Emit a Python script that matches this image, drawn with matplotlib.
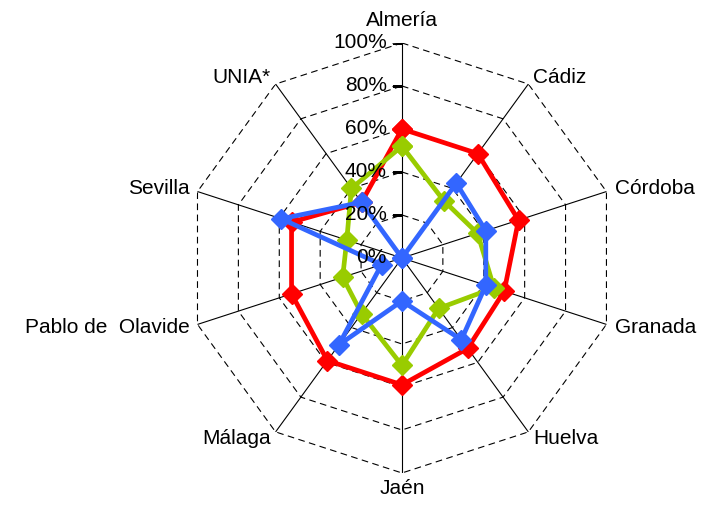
import numpy as np
import matplotlib
matplotlib.use("Agg")
import matplotlib.pyplot as plt
from matplotlib.transforms import offset_copy

plt.rcParams['font.family'] = ['Liberation Sans', 'DejaVu Sans']

# categories, clockwise from the top
categories = ['Almería', 'Cádiz', 'Córdoba', 'Granada', 'Huelva', 'Jaén',
              'Málaga', 'Pablo de  Olavide', 'Sevilla', 'UNIA*']

# values (fractions of 100%)
red_values = [0.60, 0.60, 0.57, 0.50, 0.52, 0.59, 0.59, 0.54, 0.54, 0.32]
green_values = [0.52, 0.33, 0.37, 0.45, 0.29, 0.50, 0.32, 0.29, 0.27, 0.40]
blue_values = [0.00, 0.43, 0.41, 0.41, 0.47, 0.20, 0.50, 0.10, 0.59, 0.32]

grid_levels = [0.0, 0.2, 0.4, 0.6, 0.8, 1.0]
grid_labels = ['0%', '20%', '40%', '60%', '80%', '100%']

fig = plt.figure(figsize=(7.09, 5.11), dpi=100)
# polar axes placed so the 100% ring has a radius of ~215 px around (402, 258)
ax = fig.add_axes([0.2637, 0.0744, 0.6065, 0.8415], projection='polar')
ax.set_theta_zero_location('N')
ax.set_theta_direction(-1)
ax.set_ylim(0, 1)
ax.grid(False)
ax.set_xticks([])
ax.set_yticks([])
ax.spines['polar'].set_visible(False)
ax.patch.set_visible(False)

n = len(categories)
angles = np.arange(n) * 2 * np.pi / n
closed = np.append(angles, angles[0])

# dashed polygon grid
for lvl in grid_levels[1:]:
    ax.plot(closed, [lvl] * (n + 1), color='black', lw=0.8,
            linestyle=(0, (6, 4)), zorder=1)

# spokes
for a in angles:
    ax.plot([a, a], [0, 1], color='black', lw=0.8, zorder=1)

# radial ticks and tick labels on the first axis
lab_tr = offset_copy(ax.transData, fig=fig, x=-15, y=0, units='dots')
tick_tr = offset_copy(ax.transData, fig=fig, x=-4.5, y=0, units='dots')
for lvl, lab in zip(grid_levels, grid_labels):
    ax.plot([0], [lvl], transform=tick_tr, marker='_', markersize=6.5,
            color='black', markeredgewidth=0.8, zorder=2)
    ax.text(0, lvl, lab, transform=lab_tr, ha='right', va='center',
            fontsize=15, zorder=10)

# category labels
for a, name in zip(angles, categories):
    s, c = np.sin(a), np.cos(a)
    if abs(s) < 1e-6:
        if c > 0:
            ax.text(a, 1.06, name, ha='center', va='bottom', fontsize=15)
        else:
            ax.text(a, 1.03, name, ha='center', va='top', fontsize=15)
    else:
        ax.text(a, 1.04, name, ha='left' if s > 0 else 'right',
                va='center', fontsize=15)

series = [(red_values, '#FF0000'), (green_values, '#99CC00'), (blue_values, '#3366FF')]
for z, (vals, col) in enumerate(series):
    v = np.append(vals, vals[0])
    ax.plot(closed, v, color=col, lw=3.4, marker='D', markersize=10,
            markeredgecolor=col, zorder=3 + z)

fig.savefig('out.png', dpi=100)
